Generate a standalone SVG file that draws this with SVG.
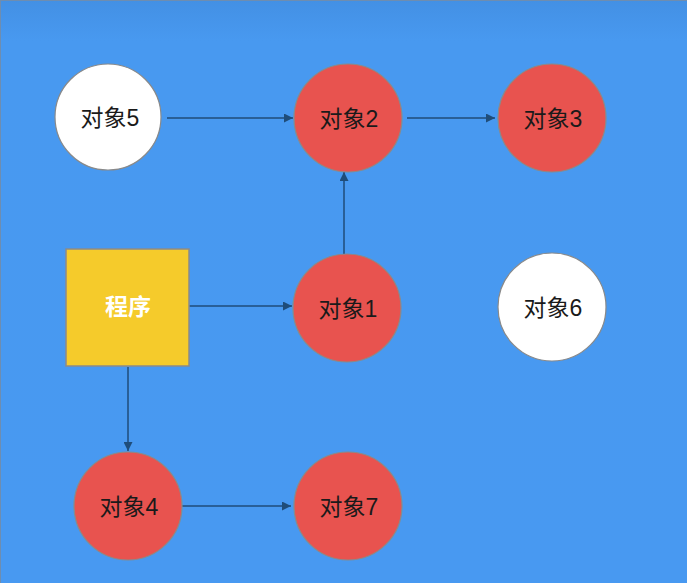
<svg xmlns="http://www.w3.org/2000/svg" width="687" height="583" viewBox="0 0 687 583">
<defs>
<linearGradient id="bg" x1="0" y1="0" x2="0" y2="1">
<stop offset="0" stop-color="#4390E4"/>
<stop offset="0.07" stop-color="#4899F0"/>
<stop offset="1" stop-color="#4899F1"/>
</linearGradient>
<marker id="arr" viewBox="0 0 10 10" refX="10" refY="5" markerWidth="9" markerHeight="9" markerUnits="userSpaceOnUse" orient="auto">
<path d="M0,0 L10,5 L0,10 z" fill="#1F4D7A"/>
</marker>
<style>
.red{fill:#E8534F;stroke:#8A8A8A;stroke-width:1.2}
.white{fill:#FFFFFF;stroke:#8A8A8A;stroke-width:1.2}
.box{fill:#F5CB2B;stroke:#8A8A8A;stroke-width:1.5}
.lbl{font-family:"Liberation Sans","Noto Sans CJK SC",sans-serif;font-size:23px;fill:#1A1A1A;text-anchor:middle}
.blbl{font-family:"Noto Sans CJK SC",sans-serif;font-size:23px;font-weight:bold;fill:#FFFFFF;text-anchor:middle}
.conn{stroke:#1F4D7A;stroke-width:1.5;fill:none;marker-end:url(#arr)}
</style>
</defs>
<rect x="0" y="0" width="687" height="583" fill="url(#bg)"/>
<line x1="0.5" y1="0" x2="0.5" y2="583" stroke="#6E8DB0" stroke-width="1"/>
<line x1="0" y1="0.5" x2="687" y2="0.5" stroke="#6E8DB0" stroke-width="1"/>
<g id="connectors">
<line class="conn" x1="167" y1="118" x2="293" y2="118"/>
<line class="conn" x1="407" y1="118" x2="495" y2="118"/>
<line class="conn" x1="344" y1="254" x2="344" y2="172"/>
<line class="conn" x1="189" y1="306" x2="292" y2="306"/>
<line class="conn" x1="128" y1="367" x2="128" y2="451"/>
<line class="conn" x1="182" y1="506" x2="291" y2="506"/>
</g>
<g id="obj5"><circle class="white" cx="108" cy="117" r="53"/><text class="lbl" x="110" y="126">对象5</text></g>
<g id="obj2"><circle class="red" cx="348" cy="118" r="54"/><text class="lbl" x="349" y="127">对象2</text></g>
<g id="obj3"><circle class="red" cx="552" cy="118" r="54"/><text class="lbl" x="553" y="127">对象3</text></g>
<g id="program"><rect class="box" x="66" y="249" width="123" height="117"/><text class="blbl" x="128" y="315">程序</text></g>
<g id="obj1"><circle class="red" cx="347" cy="308" r="54"/><text class="lbl" x="348" y="317">对象1</text></g>
<g id="obj6"><circle class="white" cx="552" cy="307" r="54"/><text class="lbl" x="553" y="316">对象6</text></g>
<g id="obj4"><circle class="red" cx="128" cy="506" r="54"/><text class="lbl" x="129" y="515">对象4</text></g>
<g id="obj7"><circle class="red" cx="348" cy="506" r="54"/><text class="lbl" x="349" y="515">对象7</text></g>
</svg>
